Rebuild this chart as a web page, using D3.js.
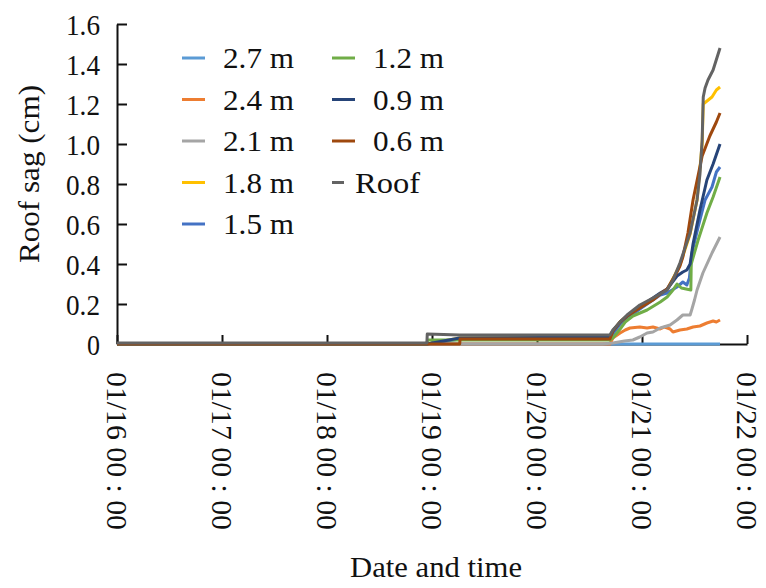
<html>
<head>
  <title>Roof sag</title>
  <meta charset="utf-8" />
  <style type="text/css">
    body { margin: 0; background: white; }
  </style>
  <script src="https://cdn.jsdelivr.net/npm/d3@7/dist/d3.min.js" charset="utf-8"></script>
</head>
<body>
<svg width="766" height="588"></svg>
<script>
  // series values: [time, sag in cm]
  var s27 = [["01/16 00:00", 0], ["01/21 17:50", 0]];
  var s24 = [["01/16 00:00", 0], ["01/20 16:40", 0], ["01/20 17:20", 0.03], ["01/20 19:00", 0.055], ["01/20 20:10", 0.07],
    ["01/20 21:15", 0.08], ["01/20 23:30", 0.085], ["01/21 01:10", 0.08], ["01/21 02:30", 0.085], ["01/21 04:10", 0.075],
    ["01/21 05:10", 0.085], ["01/21 06:25", 0.075], ["01/21 07:05", 0.06], ["01/21 08:40", 0.07], ["01/21 10:15", 0.075],
    ["01/21 11:40", 0.085], ["01/21 13:15", 0.09], ["01/21 14:50", 0.105], ["01/21 16:15", 0.115], ["01/21 17:00", 0.11],
    ["01/21 17:50", 0.12]];
  var s21 = [["01/16 00:00", 0], ["01/20 15:00", 0], ["01/20 17:20", 0.005], ["01/20 20:00", 0.015], ["01/20 21:55", 0.02],
    ["01/20 23:30", 0.035], ["01/21 01:10", 0.055], ["01/21 02:30", 0.06], ["01/21 04:10", 0.08], ["01/21 06:25", 0.095],
    ["01/21 08:00", 0.12], ["01/21 09:20", 0.145], ["01/21 11:00", 0.145], ["01/21 11:25", 0.175], ["01/21 12:00", 0.22],
    ["01/21 12:35", 0.27], ["01/21 13:55", 0.355], ["01/21 16:00", 0.455], ["01/21 17:50", 0.535]];
  var s18 = [["01/16 00:00", 0], ["01/18 22:50", 0], ["01/19 06:20", 0.03], ["01/20 16:40", 0.035], ["01/20 17:20", 0.065],
    ["01/20 19:00", 0.11], ["01/20 20:35", 0.14], ["01/20 23:30", 0.185], ["01/21 04:10", 0.25], ["01/21 05:45", 0.27],
    ["01/21 08:40", 0.395], ["01/21 11:00", 0.55], ["01/21 12:35", 0.72], ["01/21 13:45", 1.0], ["01/21 14:00", 1.2],
    ["01/21 16:00", 1.235], ["01/21 17:00", 1.27], ["01/21 17:50", 1.285]];
  var s15 = [["01/16 00:00", 0], ["01/18 22:50", 0], ["01/19 06:20", 0.025], ["01/20 16:40", 0.03], ["01/20 19:00", 0.1],
    ["01/20 23:30", 0.175], ["01/21 04:10", 0.245], ["01/21 05:45", 0.255], ["01/21 08:00", 0.285], ["01/21 09:20", 0.31],
    ["01/21 10:15", 0.295], ["01/21 10:50", 0.33], ["01/21 11:25", 0.455], ["01/21 12:50", 0.585], ["01/21 14:25", 0.72],
    ["01/21 16:00", 0.785], ["01/21 17:00", 0.86], ["01/21 17:50", 0.885]];
  var s12 = [["01/16 00:00", 0], ["01/18 22:50", 0], ["01/18 23:00", 0.02], ["01/20 16:40", 0.02], ["01/20 17:20", 0.03],
    ["01/20 19:00", 0.075], ["01/20 20:10", 0.11], ["01/20 21:55", 0.14], ["01/21 01:10", 0.17], ["01/21 04:10", 0.21],
    ["01/21 05:45", 0.235], ["01/21 07:05", 0.27], ["01/21 08:00", 0.3], ["01/21 09:00", 0.28], ["01/21 11:10", 0.27],
    ["01/21 11:15", 0.4], ["01/21 12:50", 0.52], ["01/21 14:50", 0.655], ["01/21 16:15", 0.735], ["01/21 17:50", 0.835]];
  var s09 = [["01/16 00:00", 0], ["01/18 22:50", 0], ["01/19 06:20", 0.03], ["01/20 16:40", 0.035], ["01/20 17:20", 0.065],
    ["01/20 19:00", 0.11], ["01/20 20:35", 0.14], ["01/20 23:30", 0.185], ["01/21 04:10", 0.255], ["01/21 05:45", 0.275],
    ["01/21 08:00", 0.34], ["01/21 09:20", 0.36], ["01/21 10:15", 0.37], ["01/21 11:00", 0.4], ["01/21 11:40", 0.5],
    ["01/21 13:15", 0.67], ["01/21 14:50", 0.82], ["01/21 16:15", 0.9], ["01/21 17:50", 1.0]];
  var s06 = [["01/16 00:00", 0], ["01/19 06:20", 0], ["01/19 06:25", 0.025], ["01/20 16:40", 0.025], ["01/20 17:20", 0.065],
    ["01/20 19:00", 0.11], ["01/20 20:35", 0.14], ["01/20 23:30", 0.18], ["01/21 02:30", 0.22], ["01/21 04:10", 0.25],
    ["01/21 05:45", 0.275], ["01/21 08:00", 0.36], ["01/21 08:40", 0.39], ["01/21 09:20", 0.435], ["01/21 10:30", 0.555],
    ["01/21 11:40", 0.72], ["01/21 13:45", 0.94], ["01/21 15:30", 1.04], ["01/21 17:00", 1.11], ["01/21 17:50", 1.155]];
  var sRoof = [["01/16 00:00", 0.005], ["01/18 22:50", 0.005], ["01/18 22:55", 0.05], ["01/19 06:20", 0.045], ["01/20 16:40", 0.045],
    ["01/20 17:20", 0.07], ["01/20 19:00", 0.11], ["01/20 20:35", 0.145], ["01/20 23:30", 0.195], ["01/21 02:30", 0.23],
    ["01/21 05:45", 0.27], ["01/21 07:05", 0.32], ["01/21 08:40", 0.405], ["01/21 11:00", 0.555], ["01/21 12:35", 0.72],
    ["01/21 13:15", 0.85], ["01/21 13:45", 1.02], ["01/21 14:00", 1.235], ["01/21 14:25", 1.28], ["01/21 15:05", 1.32],
    ["01/21 16:15", 1.37], ["01/21 17:50", 1.48]];

  var seriesNames = ["2.7 m", "2.4 m", "2.1 m", "1.8 m", "1.5 m", "1.2 m", "0.9 m", "0.6 m", "Roof"];
  var seriesData = [s27, s24, s21, s18, s15, s12, s09, s06, sRoof];
  var colors = ["#5b9bd5", "#ed7d31", "#a5a5a5", "#ffc000", "#4472c4", "#70ad47", "#264478", "#9e480e", "#636363"];
  var yTicks = [0, 0.2, 0.4, 0.6, 0.8, 1.0, 1.2, 1.4, 1.6];
  var xStart = "01/16 00:00", xEnd = "01/22 00:00";

  var serif = "'Liberation Serif', 'DejaVu Serif', 'Times New Roman', serif";
  var parse = d3.timeParse("%m/%d %H:%M");
  var svg = d3.select("svg");

  var x = d3.scaleTime().domain([parse(xStart), parse(xEnd)]).range([117, 747]);
  var y = d3.scaleLinear().domain([0, 1.6]).range([344, 24]);

  // y axis, ticks pointing inward
  var gy = svg.append("g")
    .attr("transform", "translate(117,0)")
    .call(d3.axisLeft(y).tickValues(yTicks).tickSizeInner(-10).tickSizeOuter(0).tickPadding(17)
      .tickFormat(function (d) { return d === 0 ? "0" : d3.format(".1f")(d) }));

  gy.attr("font-family", serif).attr("font-size", 29);
  gy.selectAll("text")
    .attr("dy", "0.36em")
    .attr("textLength", function (d) { return d === 0 ? 13 : 34 })
    .attr("lengthAdjust", "spacingAndGlyphs")
    .style("fill", "#111");

  // x axis
  var gx = svg.append("g")
    .attr("transform", "translate(0,344)")
    .call(d3.axisBottom(x).ticks(d3.timeDay.every(1)).tickSizeInner(-9).tickSizeOuter(0)
      .tickFormat(d3.timeFormat("%m/%d %H : %M")));

  gx.attr("font-family", serif).attr("font-size", 29);
  gx.selectAll("text")
    .attr("transform", "rotate(90)")
    .attr("x", 28)
    .attr("y", 0)
    .attr("dy", "0.36em")
    .attr("textLength", 158)
    .attr("lengthAdjust", "spacingAndGlyphs")
    .style("text-anchor", "start")
    .style("fill", "#111");

  svg.selectAll(".domain, .tick line").style("stroke", "#111").style("stroke-width", 2);

  // lines
  var line = d3.line()
    .x(function (d) { return x(parse(d[0])) })
    .y(function (d) { return y(d[1]) });

  svg.append("g").selectAll("path")
    .data(seriesData)
    .enter()
    .append("path")
    .attr("d", line)
    .style("fill", "none")
    .style("stroke", function (d, i) { return colors[i] })
    .style("stroke-width", 3)
    .style("stroke-linejoin", "round");

  // legend, two columns
  var legend = svg.append("g")
    .attr("font-family", serif)
    .attr("font-size", 29)
    .selectAll("g")
    .data(seriesNames)
    .enter()
    .append("g")
    .attr("transform", function (d, i) {
      var col = i < 5 ? 0 : 1, row = i < 5 ? i : i - 5;
      return "translate(" + (col ? 332 : 182) + "," + (58 + row * 41.5) + ")";
    });

  legend.append("line")
    .attr("x1", 0)
    .attr("x2", function (d) { return d === "Roof" ? 12 : 23 })
    .style("stroke", function (d, i) { return colors[i] })
    .style("stroke-width", 3);

  legend.append("text")
    .attr("x", function (d) { return d === "Roof" ? 23 : 41 })
    .attr("dy", "0.36em")
    .attr("textLength", function (d) { return d === "Roof" ? 65 : 71 })
    .attr("lengthAdjust", "spacingAndGlyphs")
    .style("fill", "#111")
    .text(function (d) { return d });

  // axis titles
  svg.append("text")
    .attr("transform", "translate(39,174) rotate(-90)")
    .attr("font-family", serif)
    .attr("font-size", 29)
    .attr("textLength", 178)
    .attr("lengthAdjust", "spacingAndGlyphs")
    .style("text-anchor", "middle")
    .style("fill", "#111")
    .text("Roof sag (cm)");

  svg.append("text")
    .attr("x", 436)
    .attr("y", 577)
    .attr("font-family", serif)
    .attr("font-size", 29)
    .attr("textLength", 172)
    .attr("lengthAdjust", "spacingAndGlyphs")
    .style("text-anchor", "middle")
    .style("fill", "#111")
    .text("Date and time");
</script>
</body>
</html>
